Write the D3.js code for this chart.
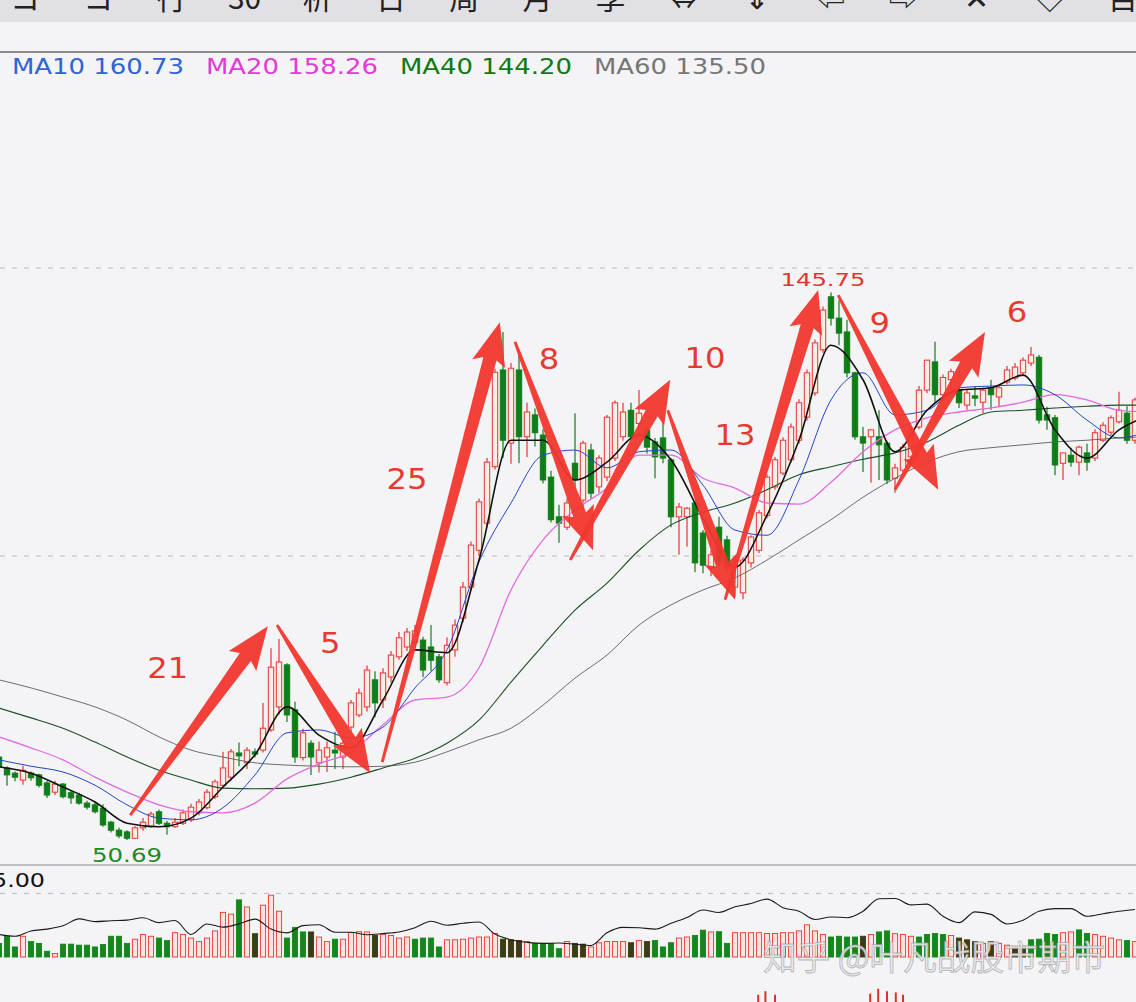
<!DOCTYPE html>
<html><head><meta charset="utf-8">
<script src="https://cdn.jsdelivr.net/npm/d3@7"></script>
<style>body{margin:0;background:#f4f4f6;overflow:hidden}svg{display:block}</style>
</head><body><svg id="c" width="1136" height="1002"></svg>
<script>
// ---------- data ----------
const toolbarLabels = ["コ","コ","行","30","析","日","周","月","季","⇔","⇕","⇦","⇨","✕","◇","目"];
const legendLabels = ["MA10 160.73","MA20 158.26","MA40 144.20","MA60 135.50"];
const priceGrid = [100,150];
const volTicks = [5];
const volTickLabels = ["5.00"];

const opens = [65.1,63.2,62.3,61.1,62.3,62.0,60.6,59.0,60.4,58.9,
58.5,57.1,56.8,56.2,53.8,52.4,52.1,51.0,52.8,53.0,
55.6,53.6,53.0,53.6,54.2,55.4,56.3,58.2,60.2,61.6,
65.8,64.1,66.0,66.3,69.8,73.8,81.1,73.3,65.0,67.5,
64.1,65.1,66.3,65.1,70.3,72.4,73.8,78.5,75.0,79.0,
82.5,84.2,85.0,85.4,84.2,82.5,78.0,83.7,89.2,94.6,
101.0,105.7,115.5,132.3,119.6,132.3,120.7,124.5,121.0,113.7,
106.8,105.0,116.1,109.7,118.4,112.0,113.7,117.0,120.7,125.3,
123.0,121.9,119.8,120.5,116.7,106.8,106.8,109.2,104.0,98.0,
105.0,102.8,94.6,93.6,98.8,101.0,107.0,112.0,114.4,116.7,
120.1,124.1,128.3,135.8,145.0,141.3,138.9,131.8,120.7,120.7,
120.7,119.6,113.5,114.9,117.2,122.4,128.8,133.7,128.0,130.6,
128.8,126.2,127.8,126.7,129.2,127.6,130.2,130.9,131.8,133.5,
134.5,124.5,124.0,116.1,117.5,116.3,117.9,117.0,120.1,121.5,
123.3,124.8,120.1];
const highs = [65.5,63.5,62.6,63.6,62.6,62.2,61.0,61.0,60.6,59.3,
58.9,57.5,57.4,56.9,54.0,52.8,52.4,53.1,54.5,55.6,
56.0,54.0,54.5,56.0,57.0,57.8,59.5,61.2,66.0,66.5,
67.6,66.8,66.6,74.5,84.0,85.6,81.4,74.7,70.0,68.0,
67.8,67.8,69.5,68.0,75.0,77.0,81.0,80.0,80.5,83.5,
86.8,87.5,88.0,86.0,88.0,83.0,85.9,89.0,95.5,102.5,
110.0,117.0,132.5,138.9,133.5,134.9,126.6,125.6,122.0,114.8,
108.9,110.0,124.8,120.0,119.5,117.5,124.5,127.0,126.6,126.6,
128.8,122.5,120.5,124.0,117.0,109.2,108.5,109.5,104.5,101.0,
106.8,103.5,100.0,99.8,103.6,108.0,114.2,117.2,120.6,123.0,
127.2,132.4,137.6,143.3,145.75,144.4,141.0,132.0,122.4,121.9,
125.3,120.0,116.0,119.5,122.5,129.5,134.0,137.2,131.5,132.5,
129.7,129.0,129.5,129.2,130.6,129.5,133.0,133.5,134.5,136.3,
134.9,125.9,124.5,117.9,118.8,119.2,119.5,122.0,123.2,124.4,
128.5,126.0,127.5];
const lows = [62.8,60.1,60.9,60.3,61.0,59.8,58.0,58.5,57.9,57.0,
56.8,56.0,55.3,53.0,52.0,51.0,50.69,50.9,52.3,52.8,
53.3,51.6,52.8,53.3,53.8,55.0,56.0,57.8,59.6,61.0,
63.5,63.0,65.0,65.9,69.5,72.5,71.2,64.1,64.5,62.0,
62.4,62.5,63.0,63.0,69.0,72.0,73.0,72.0,73.6,78.0,
82.0,83.5,84.0,79.0,80.0,78.0,77.5,82.5,88.5,94.0,
100.0,105.0,115.0,117.0,116.0,116.1,117.2,119.0,112.6,105.8,
102.3,104.5,112.0,108.0,110.0,111.0,113.0,116.5,120.0,120.0,
121.0,117.8,113.5,116.1,105.0,100.2,101.6,97.2,97.0,96.5,
98.0,97.5,92.9,92.5,98.0,100.5,106.5,111.5,114.0,116.2,
119.5,123.5,127.8,135.3,140.0,136.6,131.0,120.2,114.6,112.7,
113.2,112.5,111.0,114.5,116.8,122.0,128.3,126.6,127.0,129.0,
125.7,125.4,126.0,124.8,125.4,126.0,129.8,130.5,131.3,133.0,
123.0,121.9,114.0,113.2,115.5,114.0,114.8,116.5,119.8,121.0,
123.0,119.5,119.5];
const closes = [63.4,62.0,61.6,62.8,61.5,60.2,58.5,60.4,58.2,58.0,
57.1,56.4,55.6,53.3,52.4,51.4,51.0,52.8,53.8,55.2,
53.6,53.0,53.8,55.4,56.4,57.3,59.0,60.8,63.2,66.0,
65.3,66.3,65.6,70.1,80.7,81.6,72.4,65.1,69.3,65.1,
66.3,66.7,65.8,67.5,74.5,76.2,80.2,74.5,79.7,82.8,
85.8,86.8,87.0,80.2,81.9,78.5,84.5,88.0,94.6,101.9,
109.4,116.3,131.9,120.1,132.6,120.7,125.0,121.4,113.2,106.3,
105.7,109.2,113.2,119.6,110.9,117.0,124.1,126.6,125.0,120.7,
124.8,118.9,117.2,117.0,106.8,108.5,108.3,98.8,98.4,100.2,
98.8,98.1,99.3,99.3,103.3,107.5,113.7,116.7,120.1,122.4,
126.6,131.8,137.0,142.7,141.3,138.7,131.8,120.7,119.6,121.9,
119.3,113.2,115.3,118.9,121.9,128.8,134.0,128.0,131.0,132.0,
126.6,128.3,127.4,128.8,128.0,129.2,132.3,132.8,134.0,134.9,
123.6,123.6,115.8,117.9,116.3,118.9,116.3,121.4,122.7,124.0,
125.3,120.1,127.1];

// moving averages read at every 4th bar
const MA_STEP = 4;
const ma5  = [63.4,62.3,59.9,57.3,53.6,53.0,54.5,59.9,65.5,73.8,68.9,66.7,75.0,83.7,83.2,99.3,120.1,120.1,113.2,116.3,121.0,116.7,106.6,98.1,107.1,120.1,136.6,130.6,118.1,125.3,128.8,129.2,131.4,121.9,117.0,121.9,124.5];
const ma10 = [64.6,63.5,62.5,60.2,56.8,54.5,54.2,56.3,62.0,69.3,69.8,68.4,70.3,77.1,83.7,99.0,109.2,117.5,118.4,115.3,118.1,118.4,112.3,104.5,103.6,113.2,127.1,131.8,124.5,125.3,129.2,129.5,129.7,128.0,123.6,120.5,121.9];
const ma20 = [68.6,66.7,64.6,61.6,59.0,56.8,55.6,55.4,57.1,61.3,63.9,66.0,70.7,75.0,75.5,80.6,94.1,102.8,108.0,111.8,117.5,117.5,113.5,111.8,109.2,109.0,112.8,118.1,121.9,124.0,125.0,125.7,126.7,128.0,127.1,125.3,125.0];
const ma40 = [73.6,71.9,70.1,67.7,65.1,62.8,61.1,59.7,59.6,59.7,60.4,61.6,63.2,64.9,67.5,71.5,78.1,84.5,90.6,95.3,101.0,105.4,107.6,109.2,111.5,114.1,115.5,116.8,117.9,119.8,122.7,125.0,125.3,125.7,126.0,126.2,126.2];
const ma60 = [78.5,77.1,75.5,73.8,71.5,68.6,66.3,65.1,64.1,63.7,63.5,63.4,63.5,64.2,66.0,68.1,70.1,74.1,78.8,82.8,88.0,91.5,94.1,96.2,99.3,102.8,106.3,110.2,113.5,116.3,118.1,118.8,119.3,119.8,120.1,120.5,120.7];

const volumes = [1.07,1.63,0.79,1.63,1.21,1.07,0.45,0.28,1.01,1.01,
0.93,0.93,0.79,0.98,1.63,1.63,1.07,1.40,1.77,1.63,
1.49,1.29,1.91,1.77,1.49,1.21,1.49,2.05,3.51,3.37,
4.49,3.93,1.83,4.07,4.86,3.60,1.49,2.33,1.97,1.97,
1.57,1.21,1.40,1.40,1.91,1.99,1.97,1.69,1.77,1.69,
1.49,1.57,1.40,1.49,1.49,0.79,1.35,1.35,1.40,1.49,
1.57,1.57,1.85,1.40,1.35,1.29,1.21,1.07,1.07,1.07,
0.65,1.21,
1.07,1.01,0.79,1.12,1.21,1.21,1.21,1.12,1.29,1.21,
1.29,0.79,1.12,1.49,1.57,1.69,2.11,1.97,1.99,1.07,
1.91,1.91,1.91,1.91,1.85,1.85,1.91,1.91,2.05,2.53,
2.05,1.77,1.57,1.63,1.57,1.57,1.63,1.77,1.97,2.05,
1.83,1.77,1.63,1.57,1.77,1.85,1.77,1.69,1.49,1.35,
1.21,1.07,1.21,1.07,0.93,0.79,0.84,1.35,1.40,1.85,
1.77,1.91,1.97,2.13,1.85,1.77,1.63,1.49,1.35,1.29,
1.21];
const volKinds = ("gggrgggrgg"+"gggggggrrr"+"ggrrrrrrrr"+"grkrrrgggk"+"rrgrrrrkrr"+"rrggggrrrr"+"rrrkkkrggg"+"gr"+
 "kkrrrrrkrk"+"gggrrggrgg"+"rrrrrrrrrr"+"rrggggkrgg"+"rrrggggrkk"+"krkrrkkggg"+"grrggrrrrg"+"r").split("");
const VOLMA_STEP = 2;
const volMA = [1.77,1.63,2.05,2.19,2.45,3.0,2.78,2.85,2.9,3.09,
2.7,2.87,1.77,2.6,2.35,2.61,2.98,2.2,1.9,2.47,
2.53,1.95,1.95,1.75,1.85,1.97,2.3,2.81,2.5,2.65,
2.75,1.8,1.35,1.15,1.07,1.1,1.0,0.9,1.9,2.33,
2.3,2.19,2.65,3.1,3.7,3.5,3.95,4.2,4.55,3.88,
3.6,2.95,3.15,3.09,3.6,4.58,4.6,4.1,4.16,3.2,
2.7,3.55,3.35,2.6,2.89,3.6,3.8,3.8,3.2,3.4,
3.6,3.74];

// lower (cut-off) indicator panel: a few bars peeking in at the bottom edge
const lowerIdx = [94.9,95.8,97.0,108.9,109.9,111.0,112.1,113.0];
const lowerVal = [0.6,0.9,0.6,0.7,1.1,0.9,0.8,0.6];

// swing annotations: bar index / price of tail and tip
const swingFrom = [[16.4,55.0],[34.75,88.0],[47.9,64.2],[64.5,137.2],[71.4,99.3],[83.6,125.3],[90.75,92.4],[104.9,145.3],[112.0,111.5]];
const swingTo   = [[33.6,87.8],[46.4,62.3],[62.6,140.6],[74.25,101.0],[83.9,130.6],[92.0,92.4],[102.4,146.2],[117.4,111.5],[123.25,138.9]];
const swingLabels = ["21","5","25","8","10","13","9","6"];
const swingLabelPos = [[21.1,80.6],[41.4,84.9],[51.0,113.5],[68.75,134.2],[88.25,134.4],[92.0,121.0],[110.1,140.6],[127.25,142.5]];
const watermark = "知乎 @叶凡战股市期市";

// ---------- drawing ----------
const W = 1136, H = 1002;
const svg = d3.select("#c");
const x = d3.scaleLinear().domain([0, 142]).range([-1, 1135]);
const y = d3.scaleLinear().domain([100, 150]).range([556, 268]);
const yv = d3.scaleLinear().domain([0, 5]).range([957, 893.4]);
const yl = d3.scaleLinear().domain([0, 1]).range([1002, 990]);

const RED = "#e8352c", GREEN = "#0f7e17", DARK = "#3d3a14";
const FONT = "'DejaVu Sans', Verdana, sans-serif";

svg.append("rect").attr("width", W).attr("height", H).attr("fill", "#f4f4f6");
svg.append("rect").attr("width", W).attr("height", 22).attr("fill", "#e1e1e5");

const defs = svg.append("defs");
defs.append("clipPath").attr("id", "mainClip").append("rect")
  .attr("x", 0).attr("y", 53).attr("width", W).attr("height", 811);
defs.append("clipPath").attr("id", "volClip").append("rect")
  .attr("x", 0).attr("y", 866).attr("width", W).attr("height", H - 866);

// toolbar glyphs (cut off at the top, as in the screenshot)
svg.append("g").selectAll("text").data(toolbarLabels).join("text")
  .attr("x", (d, i) => 25 + i * 73.2).attr("y", 9)
  .attr("text-anchor", "middle")
  .attr("font-family", "'Noto Sans CJK SC', 'DejaVu Sans', sans-serif")
  .attr("font-size", 30).attr("fill", "#222").text(d => d);

// separators
svg.append("line").attr("x1", 0).attr("x2", W).attr("y1", 52).attr("y2", 52)
  .attr("stroke", "#6a6a6e").attr("stroke-width", 1.5);
svg.append("line").attr("x1", 0).attr("x2", W).attr("y1", 865).attr("y2", 865)
  .attr("stroke", "#8a8a8e").attr("stroke-width", 1.2);

// legend
const legendColors = ["#2f63d6", "#e23ad8", "#0f7a12", "#767676"];
svg.append("g").selectAll("text").data(legendLabels).join("text")
  .attr("x", (d, i) => 12 + i * 194).attr("y", 74)
  .attr("font-family", FONT).attr("font-size", 21)
  .attr("textLength", 172).attr("lengthAdjust", "spacingAndGlyphs")
  .attr("fill", (d, i) => legendColors[i]).text(d => d);

// price grid lines
svg.append("g").selectAll("line").data(priceGrid).join("line")
  .attr("x1", 0).attr("x2", W).attr("y1", d => y(d)).attr("y2", d => y(d))
  .attr("stroke", "#b9b9bd").attr("stroke-dasharray", "5,7").attr("stroke-width", 1);

// ---------- candles ----------
const candles = d3.range(opens.length).map(i => ({i, o: opens[i], h: highs[i], l: lows[i], c: closes[i]}));
const gC = svg.append("g").attr("clip-path", "url(#mainClip)");
gC.selectAll("line.wick").data(candles).join("line").attr("class", "wick")
  .attr("x1", d => x(d.i)).attr("x2", d => x(d.i))
  .attr("y1", d => y(d.h)).attr("y2", d => y(d.l))
  .attr("stroke", d => d.c >= d.o ? RED : GREEN).attr("stroke-width", 1.2);
gC.selectAll("rect.body").data(candles).join("rect").attr("class", "body")
  .attr("x", d => x(d.i) - 2.7).attr("width", 5.4)
  .attr("y", d => y(Math.max(d.o, d.c)))
  .attr("height", d => Math.max(1.2, Math.abs(y(d.o) - y(d.c))))
  .attr("fill", d => d.c >= d.o ? "#fdeee6" : GREEN)
  .attr("stroke", d => d.c >= d.o ? RED : GREEN).attr("stroke-width", 1);

// ---------- moving averages ----------
const maSpecs = [
  {v: ma60, color: "#5e5e5e", w: 0.9},
  {v: ma40, color: "#1c4f26", w: 1.1},
  {v: ma20, color: "#e36be0", w: 1.3},
  {v: ma10, color: "#2446c8", w: 1.0},
  {v: ma5,  color: "#111111", w: 1.6}
];
const maLine = d3.line().curve(d3.curveMonotoneX)
  .x((d, k) => x(k * MA_STEP)).y(d => y(d));
gC.selectAll("path.ma").data(maSpecs).join("path").attr("class", "ma")
  .attr("d", s => maLine(s.v)).attr("fill", "none")
  .attr("stroke", s => s.color).attr("stroke-width", s => s.w);

// ---------- volume ----------
const gV = svg.append("g").attr("clip-path", "url(#volClip)");
gV.selectAll("line.vg").data(volTicks).join("line").attr("class", "vg")
  .attr("x1", 0).attr("x2", W).attr("y1", d => yv(d)).attr("y2", d => yv(d))
  .attr("stroke", "#b9b9bd").attr("stroke-dasharray", "5,7");
const vols = volumes.map((v, i) => ({i, v, k: volKinds[i]}));
gV.selectAll("rect.vb").data(vols).join("rect").attr("class", "vb")
  .attr("x", d => x(d.i) - 2.6).attr("width", 5.2)
  .attr("y", d => yv(d.v)).attr("height", d => yv(0) - yv(d.v))
  .attr("fill", d => d.k === "r" ? "#fde4dc" : d.k === "g" ? "#128818" : DARK)
  .attr("stroke", d => d.k === "r" ? RED : d.k === "g" ? "#128818" : DARK)
  .attr("stroke-width", 0.9);
const vLine = d3.line().curve(d3.curveMonotoneX)
  .x((d, k) => x(k * VOLMA_STEP)).y(d => yv(d));
gV.append("path").attr("d", vLine(volMA)).attr("fill", "none")
  .attr("stroke", "#1a1a1a").attr("stroke-width", 1.1);
svg.append("g").selectAll("text").data(volTicks).join("text")
  .attr("x", -8).attr("y", d => yv(d) - 6)
  .attr("font-family", FONT).attr("font-size", 20)
  .attr("textLength", 53).attr("lengthAdjust", "spacingAndGlyphs")
  .attr("fill", "#111").text((d, i) => volTickLabels[i]);

// lower panel bars peeking in
svg.append("g").selectAll("line").data(lowerIdx).join("line")
  .attr("x1", d => x(d)).attr("x2", d => x(d))
  .attr("y1", (d, i) => yl(lowerVal[i])).attr("y2", yl(0))
  .attr("stroke", "#d8322a").attr("stroke-width", 2);

// ---------- swing arrows ----------
function arrowPoly(x1, y1, x2, y2) {
  const dx = x2 - x1, dy = y2 - y1, L = Math.hypot(dx, dy);
  const ux = dx / L, uy = dy / L, nx = -uy, ny = ux;
  const hl = 38, hw = 17, w1 = 6.8, w0 = 1.4, back = 5;
  const bx = x2 - ux * hl, by = y2 - uy * hl;
  const pts = [
    [x1 + nx * w0, y1 + ny * w0],
    [bx + nx * w1, by + ny * w1],
    [bx + nx * hw - ux * back, by + ny * hw - uy * back],
    [x2, y2],
    [bx - nx * hw - ux * back, by - ny * hw - uy * back],
    [bx - nx * w1, by - ny * w1],
    [x1 - nx * w0, y1 - ny * w0]
  ];
  return "M" + pts.map(p => p.join(",")).join("L") + "Z";
}
svg.append("g").selectAll("path").data(swingFrom).join("path")
  .attr("d", (f, i) => arrowPoly(x(f[0]), y(f[1]), x(swingTo[i][0]), y(swingTo[i][1])))
  .attr("fill", "#f2372e").attr("fill-opacity", 0.95);

svg.append("g").selectAll("text").data(swingLabels).join("text")
  .attr("x", (d, i) => x(swingLabelPos[i][0])).attr("y", (d, i) => y(swingLabelPos[i][1]))
  .attr("dy", "0.36em").attr("text-anchor", "middle")
  .attr("font-family", FONT).attr("font-size", 29)
  .attr("textLength", d => 20.5 * d.length).attr("lengthAdjust", "spacingAndGlyphs")
  .attr("fill", "#e8392f").text(d => d);

// high / low labels
const iMax = d3.maxIndex(highs), iMin = d3.minIndex(lows);
svg.append("text").attr("x", x(iMax) - 8).attr("y", y(highs[iMax]) - 6)
  .attr("text-anchor", "middle").attr("font-family", FONT).attr("font-size", 18)
  .attr("textLength", 85).attr("lengthAdjust", "spacingAndGlyphs")
  .attr("fill", "#e0362e").text(highs[iMax].toFixed(2));
svg.append("text").attr("x", x(iMin)).attr("y", y(lows[iMin]) + 22)
  .attr("text-anchor", "middle").attr("font-family", FONT).attr("font-size", 19)
  .attr("textLength", 70).attr("lengthAdjust", "spacingAndGlyphs")
  .attr("fill", "#1d8a24").text(lows[iMin].toFixed(2));

// watermark
svg.append("text").attr("x", 934).attr("y", 970).attr("text-anchor", "middle")
  .attr("font-family", "'Noto Sans CJK SC', sans-serif").attr("font-size", 34)
  .attr("textLength", 342).attr("lengthAdjust", "spacingAndGlyphs")
  .attr("fill", "#e9e9ec").attr("fill-opacity", 0.88)
  .attr("stroke", "#9c9ca0").attr("stroke-opacity", 0.75).attr("stroke-width", 0.8)
  .text(watermark);
</script>
</body></html>
